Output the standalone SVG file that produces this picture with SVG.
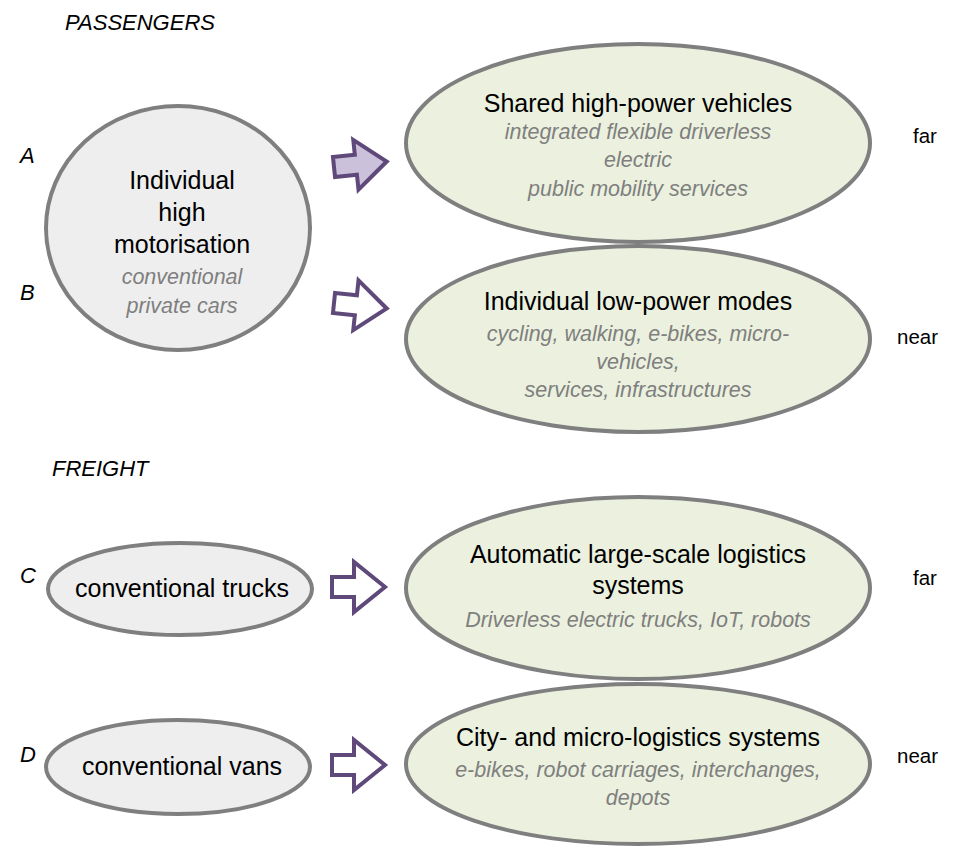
<svg xmlns="http://www.w3.org/2000/svg" width="957" height="848" viewBox="0 0 957 848">
<style>
text{font-family:"Liberation Sans",Arial,sans-serif;text-anchor:middle;fill:#000}
.t{font-size:25px}
.s{font-size:21.5px;font-style:italic;fill:#7f7f7f}
.lab{font-size:22px;font-style:italic;text-anchor:start}
.side{font-size:20.5px;text-anchor:start}
.grey{fill:#eeeeee;stroke:#7f7f7f;stroke-width:4}
.green{fill:#ebf1de;stroke:#7f7f7f;stroke-width:4}
.arr{fill:#ffffff;stroke:#5f497a;stroke-width:4;stroke-linejoin:miter}
.arrf{fill:#ccc1da;stroke:#5f497a;stroke-width:4;stroke-linejoin:miter}
</style>
<defs>
<polygon id="ar" points="0,-10 22,-10 22,-25 53,0 22,25 22,10 0,10"/>
</defs>
<rect width="957" height="848" fill="#fff"/>
<text class="lab" x="65" y="30">PASSENGERS</text>
<text class="lab" x="52" y="476">FREIGHT</text>
<text class="lab" x="20" y="163">A</text>
<text class="lab" x="20" y="300">B</text>
<text class="lab" x="20" y="583">C</text>
<text class="lab" x="20" y="762">D</text>
<text class="side" x="913" y="143">far</text>
<text class="side" x="897" y="344">near</text>
<text class="side" x="913" y="585">far</text>
<text class="side" x="897" y="763">near</text>
<g id="connectors">
<use href="#ar" class="arrf" transform="translate(334,167) rotate(-6)"/>
<use href="#ar" class="arr" transform="translate(334,303) rotate(6)"/>
<use href="#ar" class="arr" transform="translate(332,587)"/>
<use href="#ar" class="arr" transform="translate(332,765)"/>
</g>
<g id="node-individual">
<ellipse class="grey" cx="178" cy="228" rx="132" ry="122"/>
<text class="t" x="182" y="189">Individual</text>
<text class="t" x="182" y="221">high</text>
<text class="t" x="182" y="253">motorisation</text>
<text class="s" x="182" y="284">conventional</text>
<text class="s" x="182" y="313">private cars</text>
</g>
<g id="node-shared">
<ellipse class="green" cx="638" cy="143" rx="232" ry="99"/>
<text class="t" x="638" y="112">Shared high-power vehicles</text>
<text class="s" x="638" y="139">integrated flexible driverless</text>
<text class="s" x="638" y="167">electric</text>
<text class="s" x="638" y="196">public mobility services</text>
</g>
<g id="node-lowpower">
<ellipse class="green" cx="638" cy="339" rx="232" ry="93"/>
<text class="t" x="638" y="310">Individual low-power modes</text>
<text class="s" x="638" y="341">cycling, walking, e-bikes, micro-</text>
<text class="s" x="638" y="369">vehicles,</text>
<text class="s" x="638" y="397">services, infrastructures</text>
</g>
<g id="node-trucks">
<ellipse class="grey" cx="180" cy="589" rx="132" ry="46"/>
<text class="t" x="182" y="597">conventional trucks</text>
</g>
<g id="node-automatic">
<ellipse class="green" cx="638" cy="588" rx="232" ry="91"/>
<text class="t" x="638" y="563">Automatic large-scale logistics</text>
<text class="t" x="638" y="594">systems</text>
<text class="s" x="638" y="627">Driverless electric trucks, IoT, robots</text>
</g>
<g id="node-vans">
<ellipse class="grey" cx="178" cy="767" rx="132" ry="47"/>
<text class="t" x="182" y="775">conventional vans</text>
</g>
<g id="node-city">
<ellipse class="green" cx="638" cy="764" rx="232" ry="80"/>
<text class="t" x="638" y="746">City- and micro-logistics systems</text>
<text class="s" x="638" y="777">e-bikes, robot carriages, interchanges,</text>
<text class="s" x="638" y="805">depots</text>
</g>
</svg>
